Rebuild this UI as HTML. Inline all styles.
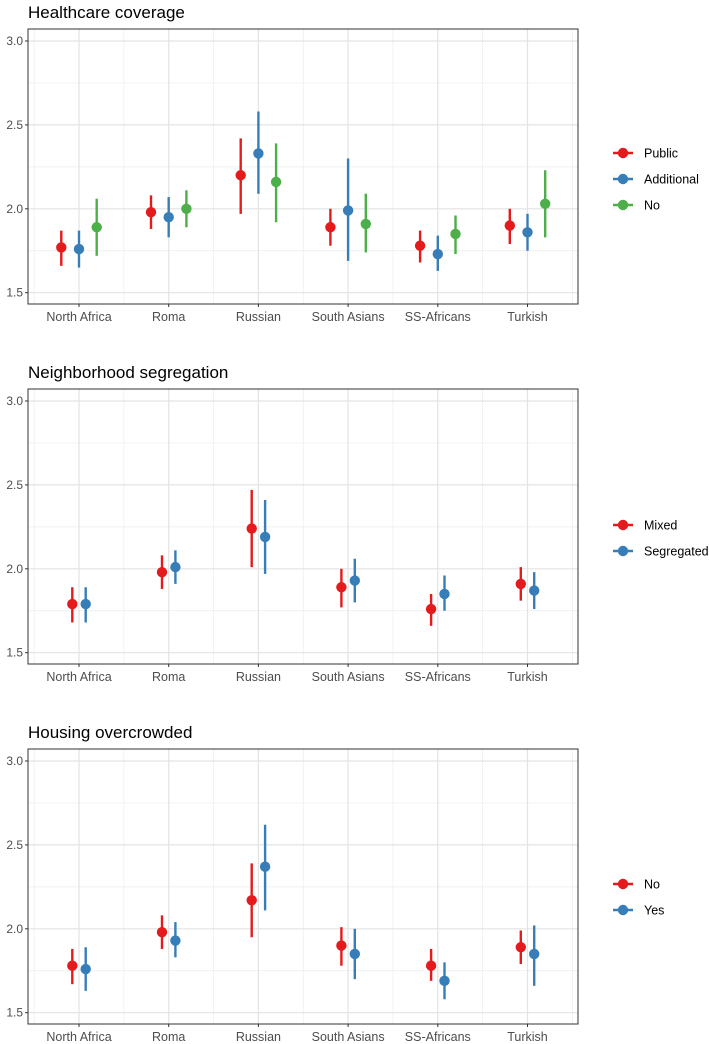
<!DOCTYPE html>
<html><head><meta charset="utf-8"><style>
body{margin:0;background:#fff;}
svg{display:block;font-family:"Liberation Sans",Arial,sans-serif;}
</style></head><body>
<svg id="chart" width="709" height="1044" viewBox="0 0 709 1044"></svg>
<script>
const categories=["North Africa","Roma","Russian","South Asians","SS-Africans","Turkish"];
const yTicks=[1.5,2.0,2.5,3.0];
const yTickLabels=["1.5","2.0","2.5","3.0"];
const titles=["Healthcare coverage","Neighborhood segregation","Housing overcrowded"];
const groups1=["Public","Additional","No"];
const groups2=["Mixed","Segregated"];
const groups3=["No","Yes"];
const colors=["#E41A1C","#377EB8","#4DAF4A"];
// panel 1 [group][category]
const p1Mean=[[1.77,1.98,2.20,1.89,1.78,1.90],[1.76,1.95,2.33,1.99,1.73,1.86],[1.89,2.00,2.16,1.91,1.85,2.03]];
const p1Lo=[[1.66,1.88,1.97,1.78,1.68,1.79],[1.65,1.83,2.09,1.69,1.63,1.75],[1.72,1.89,1.92,1.74,1.73,1.83]];
const p1Hi=[[1.87,2.08,2.42,2.00,1.87,2.00],[1.87,2.07,2.58,2.30,1.84,1.97],[2.06,2.11,2.39,2.09,1.96,2.23]];
const p2Mean=[[1.79,1.98,2.24,1.89,1.76,1.91],[1.79,2.01,2.19,1.93,1.85,1.87]];
const p2Lo=[[1.68,1.88,2.01,1.77,1.66,1.81],[1.68,1.91,1.97,1.80,1.75,1.76]];
const p2Hi=[[1.89,2.08,2.47,2.00,1.85,2.01],[1.89,2.11,2.41,2.06,1.96,1.98]];
const p3Mean=[[1.78,1.98,2.17,1.90,1.78,1.89],[1.76,1.93,2.37,1.85,1.69,1.85]];
const p3Lo=[[1.67,1.88,1.95,1.78,1.69,1.79],[1.63,1.83,2.11,1.70,1.58,1.66]];
const p3Hi=[[1.88,2.08,2.39,2.01,1.88,1.99],[1.89,2.04,2.62,2.00,1.80,2.02]];

const svg=document.getElementById('chart');
const NS="http://www.w3.org/2000/svg";
function mk(tag,attrs,parent){const e=document.createElementNS(NS,tag);for(const k in attrs)e.setAttribute(k,attrs[k]);parent.appendChild(e);return e;}

const L=28,R=578,c0=79,step=89.7;
function xScale(i){return c0+i*step;}

function panel(pi,top,groups,mean,lo,hi,legY){
  const g=mk('g',{},svg);
  
  
  const y3=top+12, y15=top+263.7;
  const yS=v=>y15-(v-1.5)*(y15-y3)/1.5;
  const bottom=top+275;
  const t=mk('text',{x:28,y:top-11,'font-size':17,fill:'#000'},g);t.textContent=titles[pi];
  
  
  [1.75,2.25,2.75].forEach(v=>mk('line',{x1:L,x2:R,y1:yS(v),y2:yS(v),stroke:'#ececec','stroke-width':0.7},g));
  for(let i=0;i<=categories.length;i++){const x=xScale(i)-step/2;mk('line',{x1:x,x2:x,y1:top,y2:bottom,stroke:'#ececec','stroke-width':0.7},g);}
  yTicks.forEach((v,i)=>{mk('line',{x1:L,x2:R,y1:yS(v),y2:yS(v),stroke:'#e3e3e3','stroke-width':1.2},g);
    mk('line',{x1:L-3,x2:L,y1:yS(v),y2:yS(v),stroke:'#333','stroke-width':1},g);
    const tl=mk('text',{x:L-5,y:yS(v)+4,'font-size':12,fill:'#4d4d4d','text-anchor':'end'},g);tl.textContent=yTickLabels[i];
    
    });
  categories.forEach((c,i)=>{const x=xScale(i);mk('line',{x1:x,x2:x,y1:top,y2:bottom,stroke:'#e3e3e3','stroke-width':1.2},g);
    mk('line',{x1:x,x2:x,y1:bottom,y2:bottom+3,stroke:'#333','stroke-width':1},g);
    const tl=mk('text',{x:x,y:bottom+17,'font-size':12.5,fill:'#4d4d4d','text-anchor':'middle'},g);tl.textContent=c;
    
    });
  mk('rect',{x:L,y:top,width:R-L,height:bottom-top,fill:'none',stroke:'#333','stroke-width':1},g);
  const n=groups.length, off=n===3?17.7:13.4;
  groups.forEach((gn,gi)=>{
    const dx=(gi-(n-1)/2)*off;
    categories.forEach((c,ci)=>{
      const x=xScale(ci)+dx;
      const l=mk('line',{x1:x,x2:x,y1:yS(lo[gi][ci]),y2:yS(hi[gi][ci]),stroke:colors[gi],'stroke-width':2.4},g);
      
      
      const p=mk('circle',{cx:x,cy:yS(mean[gi][ci]),r:5.2,fill:colors[gi]},g);
      
      
    });
    const ly=legY+gi*26;
    const le=mk('g',{},g);
    
    
    mk('line',{x1:613,x2:633,y1:ly,y2:ly,stroke:colors[gi],'stroke-width':2.4},le);
    mk('circle',{cx:623,cy:ly,r:5.2,fill:colors[gi]},le);
    const lt=mk('text',{x:644,y:ly+4.5,'font-size':12.5,fill:'#000'},le);lt.textContent=gn;
  });
}
panel(0,29,groups1,p1Mean,p1Lo,p1Hi,153);
panel(1,389,groups2,p2Mean,p2Lo,p2Hi,525);
panel(2,749,groups3,p3Mean,p3Lo,p3Hi,884);
</script>
</body></html>
